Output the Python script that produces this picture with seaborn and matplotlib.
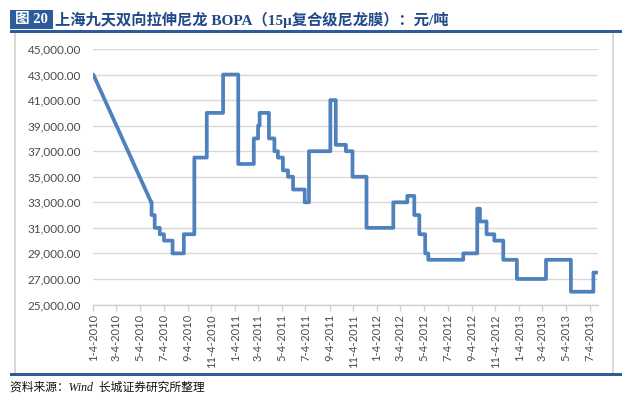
import pandas as pd
import matplotlib
matplotlib.use("Agg")
import matplotlib.pyplot as plt
from matplotlib.patches import Rectangle
import seaborn as sns

# === Data: BOPA price (yuan/ton), price-change dates ===
# first interval (Jan -> Jun 2010) has no data, so it is drawn as a straight line
dates = [
    "2010-01-04", "2010-06-02", "2010-06-03", "2010-06-11", "2010-06-24", "2010-07-05",
    "2010-07-27", "2010-08-25", "2010-09-21", "2010-10-23", "2010-12-04", "2011-01-12",
    "2011-02-21", "2011-03-04", "2011-03-08", "2011-04-01", "2011-04-15", "2011-04-24",
    "2011-05-07", "2011-05-20", "2011-06-02", "2011-07-02", "2011-07-13", "2011-09-06",
    "2011-09-20", "2011-10-16", "2011-11-02", "2011-12-08", "2012-02-15", "2012-03-22",
    "2012-04-09", "2012-04-22", "2012-05-07", "2012-05-15", "2012-08-13", "2012-09-18",
    "2012-09-25", "2012-10-12", "2012-11-01", "2012-11-24", "2012-12-29", "2013-03-14",
    "2013-05-17", "2013-07-14", "2013-07-23",
]
prices = [
    43000, 33000, 32000, 31000, 30500, 30000,
    29000, 30500, 36500, 40000, 43000, 36000,
    38000, 39000, 40000, 38000, 37000, 36500,
    35500, 35000, 34000, 33000, 37000, 41000,
    37500, 37000, 35000, 31000, 33000, 33500,
    32000, 30500, 29000, 28500, 29000, 32500,
    31500, 30500, 30000, 28500, 27000, 28500,
    26000, 27500, 27500,
]
y_ticks = list(range(25000, 45001, 2000))
x_ticks = pd.date_range("2010-01-01", "2013-07-01", freq="2MS") + pd.Timedelta(days=3)

title = "上海九天双向拉伸尼龙 BOPA（15μ复合级尼龙膜）：元/吨"
source = "资料来源：Wind  长城证券研究所整理"

# === Build step table ===
rows = [(dates[0], prices[0]), (dates[1], prices[1])]
for i in range(2, len(dates)):
    rows.append((dates[i], prices[i - 1]))
    rows.append((dates[i], prices[i]))
df = pd.DataFrame(rows, columns=["date", "price"])
df["date"] = pd.to_datetime(df["date"])

sns.set_style("white")
plt.rcParams["font.family"] = ["Lato", "DejaVu Sans"]

W, H = 634, 397
fig = plt.figure(figsize=(W / 100, H / 100), dpi=100)

def fx(x):
    return x / W

def fy(y):
    return 1 - y / H

# frame + header decorations
fig.add_artist(Rectangle((fx(15), fy(374)), fx(613) - fx(15), fy(32.3) - fy(374),
                         transform=fig.transFigure, fill=False, ec="#d0d0d0", lw=1.2))
fig.add_artist(Rectangle((fx(10), fy(32.5)), fx(622) - fx(10), fy(30) - fy(32.5),
                         transform=fig.transFigure, color="#2E5C9A", lw=0))
fig.add_artist(Rectangle((fx(10), fy(375.5)), fx(622) - fx(10), fy(372.5) - fy(375.5),
                         transform=fig.transFigure, color="#2E5C9A", lw=0))
fig.add_artist(Rectangle((fx(10), fy(28.5)), fx(52.7) - fx(10), fy(10) - fy(28.5),
                         transform=fig.transFigure, color="#2E5C9A", lw=0))
fig.text(fx(31.5), fy(19.5), "图 20", color="white", fontsize=10.5, fontweight="bold",
         ha="center", va="center", family=["Liberation Serif", "Noto Sans CJK SC"])
fig.text(fx(55), fy(19.5), title, color="#21498A", fontsize=11, fontweight="bold",
         ha="left", va="center", family=["Liberation Serif", "Noto Sans CJK SC"])
fig.text(fx(10), fy(388), source, color="#111111", fontsize=8.5, style="italic",
         ha="left", va="center", family=["Liberation Serif", "Noto Sans CJK SC"])

# === Plot ===
ax = fig.add_axes([fx(93.3), fy(304.5), fx(597.7) - fx(93.3), fy(49) - fy(304.5)])
sns.lineplot(data=df, x="date", y="price", sort=False, estimator=None,
             color="#4F81BD", linewidth=2.7, ax=ax)
for ln in ax.get_lines():
    ln.set_solid_joinstyle("round")
    ln.set_solid_capstyle("round")

ax.set_xlim(pd.Timestamp("2010-01-04"), pd.Timestamp("2013-07-25"))
ax.set_ylim(25000, 45000)
ax.set_yticks(y_ticks)
ax.set_yticklabels([f"{v:,.2f}" for v in y_ticks])
ax.set_xticks(x_ticks)
ax.set_xticklabels([f"{d.month}-{d.day}-{d.year}" for d in x_ticks], rotation=90)
ax.set_xlabel("")
ax.set_ylabel("")

ax.grid(axis="y", color="#d9d9d9", lw=1)
ax.grid(axis="x", visible=False)
ax.set_axisbelow(True)
for s in ["top", "right", "left"]:
    ax.spines[s].set_visible(False)
ax.spines["bottom"].set_color("#d0d0d0")
ax.spines["bottom"].set_linewidth(1)
ax.tick_params(axis="y", length=0, pad=9, labelsize=8.5, labelcolor="#4a4a4a")
ax.tick_params(axis="x", direction="out", length=4, width=1, color="#d0d0d0",
               pad=3, labelsize=8, labelcolor="#4a4a4a", bottom=True)

fig.savefig("out.png", dpi=100)
